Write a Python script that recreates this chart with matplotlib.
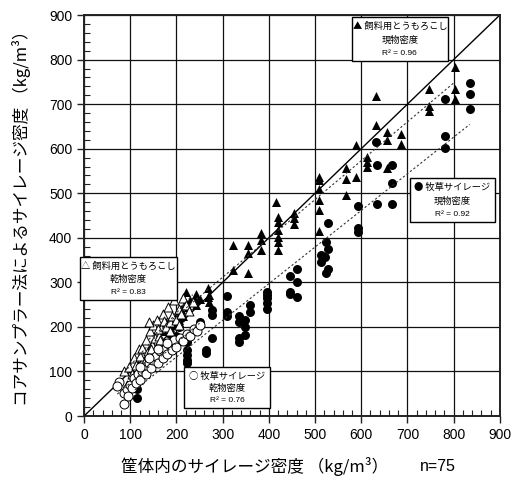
import numpy as np
import matplotlib
matplotlib.use("Agg")
import matplotlib.pyplot as plt
from matplotlib.ticker import MultipleLocator
from matplotlib.patches import Rectangle

plt.rcParams['font.family'] = ['Noto Sans CJK JP', 'DejaVu Sans']

# 飼料用とうもろこし 現物密度 (filled triangles)
corn_fresh_x = [803, 747, 803, 803, 633, 747, 747, 633, 655, 687, 655, 687, 588, 612, 612, 612,
                655, 567, 567, 588, 509, 509, 509, 509, 509, 567, 509, 415, 419, 419, 419, 419,
                419, 419, 455, 455, 455, 383, 383, 383, 355, 355, 322, 322, 355, 221, 242, 269,
                221, 242, 242, 269, 271, 240, 218, 271, 150, 160, 170, 177, 185, 191, 200, 205,
                210, 215, 225, 230, 140, 165, 250]
corn_fresh_y = [784, 735, 733, 711, 718, 696, 684, 653, 638, 634, 619, 610, 608, 582, 571, 560,
                556, 556, 531, 537, 537, 530, 509, 486, 462, 496, 415, 481, 447, 436, 417, 402,
                391, 373, 455, 444, 432, 410, 395, 373, 384, 365, 384, 328, 322, 279, 275, 287,
                254, 266, 249, 268, 257, 260, 253, 272, 160, 175, 190, 212, 200, 219, 230, 215,
                240, 225, 245, 260, 150, 195, 262]

# 牧草サイレージ 現物密度 (filled circles)
grass_fresh_x = [835, 835, 782, 835, 782, 633, 782, 635, 667, 667, 635, 667, 592, 592, 592, 529,
                 524, 529, 512, 521, 512, 529, 524, 462, 446, 462, 446, 462, 397, 397, 309, 397,
                 397, 397, 446, 359, 359, 309, 309, 336, 336, 348, 348, 336, 336, 348, 276, 276,
                 251, 251, 276, 265, 265, 222, 222, 222, 222, 222, 190, 114, 110, 110, 115, 130,
                 145, 160, 175, 185, 200, 205, 180, 195, 210]
grass_fresh_y = [747, 723, 711, 690, 628, 616, 601, 563, 563, 524, 477, 477, 471, 423, 414, 434,
                 391, 376, 361, 358, 346, 329, 320, 330, 315, 301, 279, 268, 279, 271, 269, 264,
                 253, 240, 274, 249, 234, 234, 224, 224, 212, 215, 200, 174, 167, 182, 238, 227,
                 212, 204, 174, 148, 142, 167, 148, 137, 126, 118, 215, 40, 88, 81, 60, 100,
                 120, 140, 165, 185, 180, 200, 150, 205, 220]

# 飼料用とうもろこし 乾物密度 (open triangles)
corn_dry_x = [87, 92, 98, 103, 108, 112, 118, 122, 126, 130, 134, 138, 142, 146, 150, 154,
              158, 162, 166, 170, 174, 178, 182, 186, 190, 195, 200, 205, 210, 215, 220, 228,
              235, 125, 145, 165, 185, 205, 140, 160]
corn_dry_y = [100, 70, 110, 95, 130, 115, 150, 135, 152, 120, 170, 145, 190, 160, 205, 175,
              215, 180, 197, 230, 214, 200, 245, 210, 225, 260, 215, 240, 230, 265, 250, 235,
              255, 105, 150, 170, 190, 205, 210, 195]

# 牧草サイレージ 乾物密度 (open circles)
grass_dry_x = [76, 72, 87, 87, 92, 96, 100, 104, 108, 112, 116, 120, 125, 130, 135, 140,
               145, 150, 155, 160, 165, 170, 175, 180, 185, 190, 195, 200, 208, 215, 222, 230,
               238, 245, 250, 120, 140, 160, 180]
grass_dry_y = [77, 67, 51, 28, 60, 45, 70, 62, 85, 75, 95, 80, 100, 110, 95, 120,
               108, 125, 135, 118, 145, 130, 150, 140, 160, 148, 170, 155, 175, 168, 185, 180,
               195, 190, 205, 110, 130, 150, 165]

ticks = [0, 100, 200, 300, 400, 500, 600, 700, 800, 900]

fig = plt.figure(figsize=(5.19, 4.86), dpi=100)
ax = fig.add_axes([0.162, 0.144, 0.801, 0.825])
ax.set_xlim(0, 900)
ax.set_ylim(0, 900)
ax.set_xticks(ticks)
ax.set_yticks(ticks)
ax.xaxis.set_minor_locator(MultipleLocator(20))
ax.yaxis.set_minor_locator(MultipleLocator(20))
ax.grid(True, which='major', color='#111111', lw=0.9)
ax.set_axisbelow(True)
ax.tick_params(which='major', direction='out', length=5, width=1, labelsize=10, color='#222')
ax.tick_params(which='minor', direction='in', length=4, width=0.8, color='#222')
for lbl in ax.get_xticklabels() + ax.get_yticklabels():
    lbl.set_fontfamily('Liberation Sans')
for s in ax.spines.values():
    s.set_linewidth(1.4)
    s.set_color('#222')

ax.plot([0, 900], [0, 900], color='black', lw=1.0, zorder=2)

ms = 42
ax.scatter(corn_fresh_x, corn_fresh_y, marker='^', s=ms, c='black', zorder=3, linewidths=0)
ax.scatter(grass_fresh_x, grass_fresh_y, marker='o', s=ms, c='black', zorder=3, linewidths=0)
ax.scatter(corn_dry_x, corn_dry_y, marker='^', s=ms, facecolors='white', edgecolors='black',
           linewidths=0.7, zorder=4)
ax.scatter(grass_dry_x, grass_dry_y, marker='o', s=ms, facecolors='white', edgecolors='black',
           linewidths=0.7, zorder=4)

for xs, ys in [(corn_fresh_x, corn_fresh_y), (grass_fresh_x, grass_fresh_y),
               (corn_dry_x, corn_dry_y), (grass_dry_x, grass_dry_y)]:
    xs = np.array(xs, float); ys = np.array(ys, float)
    k, b = np.polyfit(xs, ys, 1)
    xx = np.array([xs.min(), xs.max()])
    ax.plot(xx, k * xx + b, ls=(0, (2, 2)), color='#333333', lw=0.8, zorder=5)


def label_box(x0, x1, y0, y1, sym, name, kind, r2):
    ax.add_patch(Rectangle((x0, y0), x1 - x0, y1 - y0, transform=ax.transAxes,
                           facecolor='white', edgecolor='black', lw=1.0, zorder=10,
                           clip_on=False))
    xc = (x0 + x1) / 2
    h = y1 - y0
    ax.text(xc, y0 + h * 0.78, f"{sym} {name}", transform=ax.transAxes, ha='center',
            va='center', fontsize=6.7, zorder=11)
    ax.text(xc, y0 + h * 0.47, kind, transform=ax.transAxes, ha='center',
            va='center', fontsize=6.7, zorder=11)
    ax.text(xc, y0 + h * 0.18, f"R² = {r2}", transform=ax.transAxes, ha='center',
            va='center', fontsize=6, zorder=11, family=['Liberation Sans', 'DejaVu Sans'])


label_box(0.644, 0.875, 0.885, 0.995, '▲', '飼料用とうもろこし', '現物密度', '0.96')
label_box(0.784, 0.988, 0.484, 0.594, '●', '牧草サイレージ', '現物密度', '0.92')
label_box(-0.010, 0.224, 0.289, 0.397, '△', '飼料用とうもろこし', '乾物密度', '0.83')
label_box(0.240, 0.447, 0.020, 0.122, '○', '牧草サイレージ', '乾物密度', '0.76')

fig.text(0.49, 0.04, '筐体内のサイレージ密度 （kg/m³）', ha='center', va='center', fontsize=12)
fig.text(0.843, 0.04, 'n=75', ha='center', va='center', fontsize=11.5,
         family=['Liberation Sans', 'DejaVu Sans'])
fig.text(0.042, 0.56, 'コアサンプラー法によるサイレージ密度 （kg/m³）', ha='center', va='center',
         rotation=90, fontsize=12)

fig.savefig('out.png', dpi=100)
